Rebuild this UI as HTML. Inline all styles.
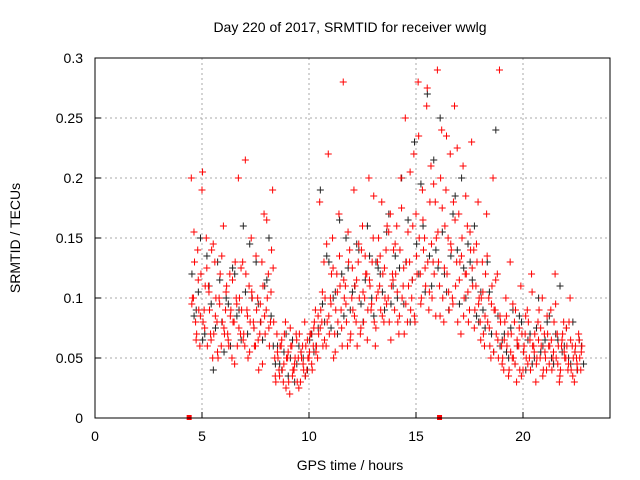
<!DOCTYPE html>
<html><head><meta charset="utf-8"><style>
body{margin:0;background:#fff}
svg{display:block;font-family:"Liberation Sans",sans-serif}
</style></head><body>
<svg id="c" width="640" height="480">
<text x="350" y="32" font-size="14" text-anchor="middle">Day 220 of 2017, SRMTID for receiver wwlg</text>
<text x="350" y="470" font-size="14" text-anchor="middle">GPS time / hours</text>
<text transform="translate(20,238) rotate(-90)" font-size="14" text-anchor="middle">SRMTID / TECUs</text>
<g id="grid"></g><g id="marks"></g>
<rect x="95" y="58" width="515" height="360" fill="none" stroke="#000"/>
</svg>
<script>
const xTicks=[0,5,10,15,20];
const yTicks=[0,0.05,0.1,0.15,0.2,0.25,0.3];
const yTickLabels=["0","0.05","0.1","0.15","0.2","0.25","0.3"];
const redStart=4.5, redStep=0.1;
const redA=[0.2,0.1,0.08,0.14,0.06,0.19,0.09,0.15,0.11,0.07,0.05,0.13,0.08,0.1,0.06,0.16,0.09,0.07,0.12,0.05,0.08,0.1,0.2,0.07,0.13,0.06,0.09,0.11,0.15,0.08,0.06,0.1,0.07,0.13,0.17,0.09,0.12,0.08,0.19,0.05,
0.07,0.04,0.06,0.03,0.08,0.05,0.02,0.06,0.04,0.07,0.05,0.03,0.06,0.08,0.04,0.05,0.07,0.06,0.09,0.05,
0.18,0.08,0.13,0.06,0.22,0.1,0.15,0.07,0.12,0.17,0.09,0.28,0.11,0.06,0.14,0.1,0.19,0.08,0.13,0.07,0.16,0.1,0.12,0.2,0.09,0.15,0.06,0.13,0.11,0.18,0.08,0.14,0.1,0.17,0.12,
0.09,0.16,0.07,0.2,0.11,0.25,0.08,0.13,0.1,0.22,0.17,0.28,0.12,0.19,0.15,0.26,0.09,0.21,0.13,0.18,
0.29,0.11,0.24,0.08,0.19,0.15,0.22,0.1,0.26,0.13,0.17,0.07,0.21,0.12,0.16,0.09,0.23,0.14,0.11,0.18,
0.08,0.13,0.06,0.17,0.1,0.05,0.2,0.09,0.12,0.29,
0.06,0.04,0.1,0.07,0.13,0.05,0.08,0.03,0.06,0.11,0.04,0.07,0.09,0.05,0.12,0.06,0.03,0.08,0.05,0.1,0.07,0.04,0.06,0.09,0.05,0.12,0.07,0.03,0.06,0.08,0.05,0.04,0.1,0.06,0.03,0.05,0.07,0.04];
const redB=[0.1,0.13,0.07,0.09,0.12,0.08,0.11,0.06,0.09,0.14,0.07,0.1,0.05,0.12,0.08,0.07,0.11,0.06,0.09,0.08,0.13,0.06,0.1,0.09,0.07,0.12,0.05,0.08,0.1,0.06,0.09,0.04,0.08,0.11,0.07,0.1,0.06,0.14,0.08,0.03,
0.05,0.06,0.04,0.07,0.05,0.03,0.06,0.04,0.05,0.03,0.07,0.05,0.04,0.06,0.05,0.07,0.04,0.08,0.06,0.07,
0.09,0.06,0.1,0.08,0.07,0.12,0.05,0.09,0.08,0.11,0.06,0.1,0.08,0.13,0.07,0.09,0.11,0.06,0.1,0.14,0.08,0.12,0.09,0.11,0.13,0.08,0.1,0.15,0.09,0.12,0.1,0.16,0.08,0.11,0.14,
0.12,0.08,0.14,0.1,0.07,0.13,0.11,0.09,0.16,0.08,0.12,0.15,0.1,0.14,0.11,0.13,0.18,0.1,0.12,0.15,
0.13,0.2,0.1,0.16,0.12,0.09,0.14,0.18,0.11,0.08,0.13,0.15,0.1,0.12,0.08,0.14,0.11,0.09,0.13,0.1,
0.1,0.07,0.12,0.08,0.06,0.11,0.09,0.07,0.05,0.08,
0.05,0.08,0.06,0.04,0.07,0.05,0.09,0.06,0.04,0.07,0.06,0.05,0.08,0.04,0.06,0.07,0.05,0.09,0.06,0.04,0.05,0.07,0.06,0.04,0.08,0.05,0.06,0.04,0.07,0.05,0.06,0.08,0.04,0.05,0.06,0.04,0.05,0.06];
const redC=[0.095,0.155,0.065,0.115,0.085,0.205,0.075,0.125,0.105,0.065,0.145,0.085,0.055,0.095,0.135,0.075,0.105,0.065,0.085,0.115,0.045,0.095,0.075,0.125,0.065,0.215,0.085,0.055,0.105,0.075,0.135,0.065,0.095,0.045,0.085,0.165,0.075,0.105,0.125,0.035,
0.055,0.035,0.065,0.045,0.025,0.055,0.075,0.035,0.045,0.065,0.025,0.055,0.045,0.035,0.065,0.055,0.045,0.075,0.055,0.085,
0.075,0.105,0.065,0.145,0.085,0.095,0.125,0.055,0.105,0.135,0.075,0.115,0.095,0.155,0.065,0.125,0.085,0.115,0.145,0.075,0.105,0.135,0.065,0.115,0.095,0.185,0.075,0.105,0.135,0.085,0.125,0.095,0.155,0.065,0.115,
0.145,0.105,0.085,0.175,0.125,0.095,0.155,0.205,0.115,0.085,0.135,0.235,0.095,0.165,0.125,0.275,0.105,0.145,0.195,0.085,
0.155,0.085,0.175,0.125,0.235,0.105,0.145,0.095,0.165,0.225,0.115,0.135,0.085,0.185,0.105,0.155,0.125,0.075,0.145,0.095,
0.065,0.105,0.085,0.135,0.075,0.095,0.055,0.115,0.065,0.085,
0.045,0.065,0.085,0.035,0.055,0.095,0.045,0.065,0.075,0.035,0.055,0.085,0.045,0.065,0.105,0.055,0.045,0.065,0.075,0.035,0.055,0.085,0.045,0.065,0.055,0.095,0.045,0.035,0.065,0.055,0.075,0.045,0.065,0.035,0.055,0.045,0.065,0.055];
const blackStart=4.5, blackStep=0.2;
const blackV=[0.12,0.09,0.15,0.07,0.11,0.04,0.13,0.08,0.1,0.06,0.12,0.09,0.16,0.07,0.1,0.13,0.08,0.11,0.15,0.06,
0.06,0.04,0.07,0.05,0.03,0.06,0.05,0.04,0.07,0.06,
0.19,0.08,0.13,0.1,0.07,0.12,0.15,0.09,0.11,0.14,0.08,0.16,0.1,0.13,0.12,0.09,0.17,0.11,
0.1,0.2,0.13,0.08,0.23,0.12,0.16,0.27,0.11,0.14,
0.25,0.12,0.09,0.17,0.14,0.2,0.1,0.13,0.16,0.08,
0.09,0.13,0.07,0.24,0.06,
0.07,0.05,0.09,0.06,0.08,0.04,0.07,0.05,0.1,0.06,0.08,0.05,0.07,0.11,0.06,0.05,0.08,0.04,0.06];
const blackC=[0.085,0.105,0.065,0.135,0.095,0.075,0.115,0.055,0.095,0.125,0.085,0.065,0.105,0.145,0.075,0.095,0.065,0.115,0.085,0.045,
0.045,0.055,0.035,0.065,0.045,0.055,0.035,0.065,0.055,0.075,
0.095,0.135,0.075,0.105,0.165,0.085,0.125,0.105,0.145,0.095,0.115,0.135,0.085,0.125,0.105,0.155,0.095,0.135,
0.125,0.095,0.165,0.115,0.145,0.195,0.105,0.135,0.215,0.125,
0.155,0.105,0.135,0.185,0.095,0.125,0.145,0.115,0.085,0.105,
0.075,0.105,0.055,0.085,0.065,
0.055,0.075,0.045,0.085,0.055,0.065,0.045,0.075,0.055,0.065,0.085,0.045,0.065,0.055,0.075,0.045,0.055,0.065,0.045];
const gapMarks=[4.4,16.1];

const X=t=>95+t*21.4, Y=v=>418-v*1200;
const NS="http://www.w3.org/2000/svg";
const grid=document.getElementById('grid'), marks=document.getElementById('marks');
function mk(tag,attrs,parent){const e=document.createElementNS(NS,tag);for(const k in attrs)e.setAttribute(k,attrs[k]);parent.appendChild(e);return e;}
xTicks.forEach(t=>{
  if(t>0){const l=mk('line',{x1:X(t),x2:X(t),y1:58,y2:418,stroke:'#aaa','stroke-dasharray':'2,3'},grid);
  
  }
  const tk=mk('line',{x1:X(t),x2:X(t),y1:418,y2:412,stroke:'#000'},grid);
  
  
  const tx=mk('text',{x:X(t),y:441,'font-size':14,'text-anchor':'middle'},grid);tx.textContent=t;
  
  
});
yTicks.forEach((v,i)=>{
  if(v>0&&v<0.3){const l=mk('line',{x1:95,x2:610,y1:Y(v),y2:Y(v),stroke:'#aaa','stroke-dasharray':'2,3'},grid);
  
  }
  const tk=mk('line',{x1:95,x2:101,y1:Y(v),y2:Y(v),stroke:'#000'},grid);
  
  
  const tx=mk('text',{x:83,y:Y(v)+5,'font-size':14,'text-anchor':'end'},grid);tx.textContent=yTickLabels[i];
  
  
});
function plus(t,v,col,name){
  const x=X(t),y=Y(v);
  const p=mk('path',{d:`M${x-3.5},${y}h7M${x},${y-3.5}v7`,stroke:col,'stroke-width':1},marks);
  
  
}
blackV.forEach((v,i)=>plus(blackStart+i*blackStep+0.03,v,'#222','black-point'));
blackC.forEach((v,i)=>plus(blackStart+i*blackStep+0.13,v,'#222','black-point'));
redA.forEach((v,i)=>plus(redStart+i*redStep,v,'#f00','red-point'));
redB.forEach((v,i)=>plus(redStart+i*redStep+0.05,v,'#f00','red-point'));
redC.forEach((v,i)=>plus(redStart+i*redStep+0.025,v,'#f00','red-point'));
gapMarks.forEach(t=>{
  const r=mk('rect',{x:X(t)-2.5,y:415,width:5,height:5,fill:'#f00'},marks);
  
  
});
</script>
</body></html>
